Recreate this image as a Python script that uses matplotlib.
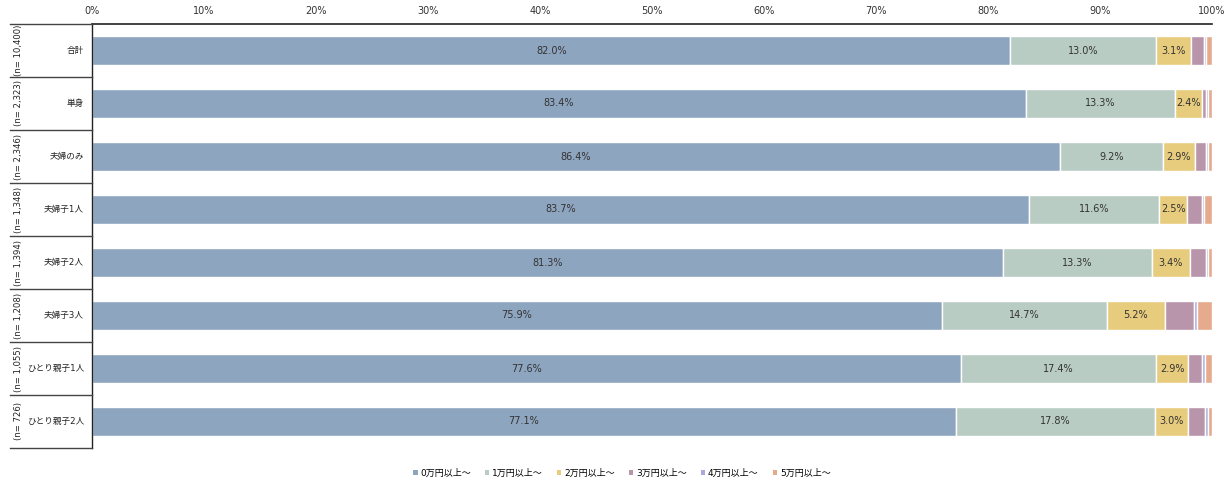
import matplotlib
matplotlib.use("Agg")
import matplotlib.pyplot as plt
from matplotlib.lines import Line2D
from matplotlib.patches import Patch
import numpy as np

plt.rcParams['font.family'] = ['DejaVu Sans', 'Noto Sans CJK JP']

categories = ["合計", "単身", "夫婦のみ", "夫婦子1人", "夫婦子2人", "夫婦子3人", "ひとり親子1人", "ひとり親子2人"]
n_labels = ["(n= 10,400)", "(n= 2,323)", "(n= 2,346)", "(n= 1,348)", "(n= 1,394)", "(n= 1,208)", "(n= 1,055)", "(n= 726)"]
series_names = ["0万円以上～", "1万円以上～", "2万円以上～", "3万円以上～", "4万円以上～", "5万円以上～"]
v0 = [82.0, 83.4, 86.4, 83.7, 81.3, 75.9, 77.6, 77.1]
v1 = [13.0, 13.3, 9.2, 11.6, 13.3, 14.7, 17.4, 17.8]
v2 = [3.1, 2.4, 2.9, 2.5, 3.4, 5.2, 2.9, 3.0]
v3 = [1.2, 0.4, 1.0, 1.3, 1.5, 2.6, 1.2, 1.5]
v4 = [0.2, 0.1, 0.1, 0.2, 0.1, 0.3, 0.3, 0.2]
v5 = [0.5, 0.4, 0.4, 0.7, 0.4, 1.3, 0.6, 0.4]
colors = ["#8EA5BF", "#B9CCC4", "#E8CC7E", "#B895AA", "#ABABDB", "#E6AA8C"]
labeled = [True, True, True, False, False, False]

W, H = 1231, 484
fig = plt.figure(figsize=(W / 100, H / 100), dpi=100)
x0, x1 = 92, 1212
ytop, ybot = 24, 448
ax = fig.add_axes([x0 / W, 1 - ybot / H, (x1 - x0) / W, (ybot - ytop) / H])

data = [v0, v1, v2, v3, v4, v5]
y = np.arange(len(categories))
left = np.zeros(len(categories))
for vals, col, name, lab in zip(data, colors, series_names, labeled):
    vals = np.array(vals)
    ax.barh(y, vals, left=left, height=0.54, color=col, edgecolor="white", linewidth=1.0, label=name)
    if lab:
        for yi, (l, v) in enumerate(zip(left, vals)):
            ax.text(l + v / 2, yi, f"{v:.1f}%", ha="center", va="center", fontsize=7, color="#333333")
    left += vals

ax.set_xlim(0, 100)
ax.set_ylim(len(categories) - 0.5, -0.5)
ax.xaxis.tick_top()
ax.set_xticks(np.arange(0, 101, 10))
ax.set_xticklabels([f"{t}%" for t in range(0, 101, 10)], fontsize=7, color="#333333")
ax.tick_params(axis="x", length=0, pad=6)
ax.set_yticks([])
for s in ["right", "bottom"]:
    ax.spines[s].set_visible(False)
ax.spines["top"].set_color("#222222")
ax.spines["top"].set_linewidth(1.2)
ax.spines["left"].set_color("#222222")
ax.spines["left"].set_linewidth(1.0)

# left table
row_h = (ybot - ytop) / len(categories)
for i in range(len(categories) + 1):
    yy = 1 - (ytop + i * row_h) / H
    fig.add_artist(Line2D([10 / W, x0 / W], [yy, yy], color="#444444", linewidth=1.0))
for i, (c, n) in enumerate(zip(categories, n_labels)):
    yc = 1 - (ytop + (i + 0.5) * row_h) / H
    fig.text(84 / W, yc, c, ha="right", va="center", fontsize=6.2, color="#222222")
    fig.text(19 / W, yc, n, ha="center", va="center", fontsize=6.1, rotation=90, color="#222222")

handles = [Patch(facecolor=c, edgecolor="none") for c in colors]
fig.legend(handles, series_names, loc="center", bbox_to_anchor=(622 / W, 1 - 473 / H), ncol=6,
           frameon=False, fontsize=6.5, handlelength=0.45, handleheight=0.45, handletextpad=0.3, columnspacing=1.6)

fig.savefig("out.png", dpi=100)
